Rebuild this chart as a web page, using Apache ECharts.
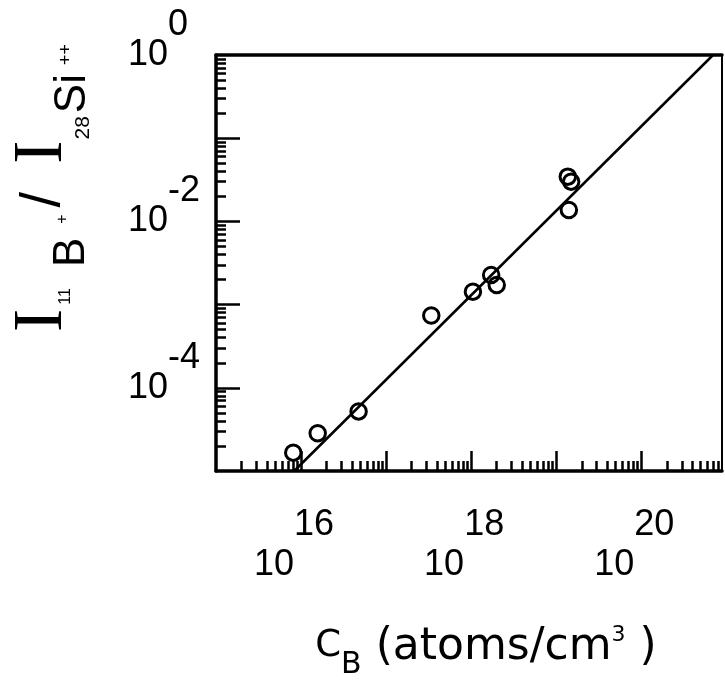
<!DOCTYPE html>
<html>

<head>
    <meta charset="utf-8">
    <title>11B+ / 28Si++ ratio vs boron concentration</title>
    <script src="https://cdn.jsdelivr.net/npm/echarts@6.0.0/dist/echarts.min.js"></script>
    <style>
        html,
        body {
            margin: 0;
            padding: 0;
            background: #fff;
        }

        #main {
            width: 725px;
            height: 693px;
        }
    </style>
</head>

<body>
    <div id="main"></div>
    <script>
        // boron concentration C_B (atoms/cm3) and ion intensity ratio
        var concentration = [8.1e15, 1.57e16, 4.75e16, 3.4e17, 1.05e18, 1.72e18, 2.0e18, 1.37e19, 1.5e19, 1.41e19];
        var ratio = [1.66e-5, 2.84e-5, 5.2e-5, 7.4e-4, 1.43e-3, 2.27e-3, 1.72e-3, 3.45e-2, 3.0e-2, 1.37e-2];

        // the drawn straight line (end points)
        var fitX = [8.3e15, 7.0e20];
        var fitY = [1e-5, 1];

        // tick labels (mantissa 10, exponent as superscript)
        var xTickValues = [1e16, 1e18, 1e20];
        var xTickLabels = ['16', '18', '20'];
        var yTickValues = [1, 1e-2, 1e-4];
        var yTickLabels = ['0', '-2', '-4'];

        var xMin = 1e15, xMax = Math.pow(10, 20.95);
        var yMin = 1e-5, yMax = 1;

        // decade ticks and 2..9 minor ticks
        function decades(lo, hi) {
            var out = [];
            for (var e = lo; e <= hi; e++) out.push(Math.pow(10, e));
            return out;
        }
        function minors(lo, hi, max) {
            var out = [];
            for (var e = lo; e <= hi; e++) {
                for (var k = 2; k <= 9; k++) {
                    var v = k * Math.pow(10, e);
                    if (v < max) out.push(v);
                }
            }
            return out;
        }

        function nearest(list, v) {
            var best = 0, d = Infinity;
            for (var i = 0; i < list.length; i++) {
                var dd = Math.abs(Math.log10(list[i]) - Math.log10(v));
                if (dd < d) { d = dd; best = i; }
            }
            return best;
        }

        var black = '#000';
        var sans = 'Liberation Sans';

        var myChart = echarts.init(document.getElementById('main'));

        var option = {
            animation: false,
            backgroundColor: '#fff',
            grid: {
                left: 216,
                top: 55,
                width: 506,
                height: 416,
                containLabel: false,
                outerBoundsMode: 'none'
            },
            xAxis: [{
                // main bottom axis: decade ticks, labels, title
                type: 'log',
                position: 'bottom',
                min: xMin,
                max: xMax,
                axisLine: { show: true, onZero: false, lineStyle: { color: black, width: 3.5 } },
                axisTick: {
                    show: true, inside: true, length: 20,
                    customValues: decades(16, 20),
                    lineStyle: { color: black, width: 2.5 }
                },
                axisLabel: {
                    customValues: xTickValues,
                    margin: 36,
                    formatter: function (value) {
                        return '{b|10}{s|' + xTickLabels[nearest(xTickValues, value)] + '}';
                    },
                    rich: {
                        b: { fontFamily: sans, fontSize: 36, color: black },
                        s: { fontFamily: sans, fontSize: 36, color: black, padding: [0, 14, 80, 0] }
                    }
                },
                splitLine: { show: false },
                name: '{c|C}{cb|B} {t|(atoms/cm}{p|3} {t|)}',
                nameLocation: 'middle',
                nameGap: 145,
                nameTextStyle: {
                    fontFamily: 'DejaVu Sans',
                    fontSize: 44,
                    color: black,
                    padding: [0, 0, 0, 34],
                    rich: {
                        c: { fontFamily: 'DejaVu Sans', fontSize: 37, color: black, padding: [0, 0, 3, 0] },
                        cb: { fontFamily: 'DejaVu Sans', fontSize: 30, color: black, padding: [34, 0, 0, 0] },
                        t: { fontFamily: 'DejaVu Sans', fontSize: 44, color: black },
                        p: { fontFamily: 'DejaVu Sans', fontSize: 22, color: black, padding: [0, 0, 26, 0] }
                    }
                }
            }, {
                // minor ticks
                type: 'log',
                position: 'bottom',
                min: xMin,
                max: xMax,
                axisLine: { show: false },
                axisTick: {
                    show: true, inside: true, length: 10,
                    customValues: minors(15, 20, xMax),
                    lineStyle: { color: black, width: 2.5 }
                },
                axisLabel: { show: false },
                splitLine: { show: false }
            }, {
                // top frame
                type: 'log',
                position: 'top',
                min: xMin,
                max: xMax,
                axisLine: { show: true, lineStyle: { color: black, width: 3.5 } },
                axisTick: { show: false },
                axisLabel: { show: false },
                splitLine: { show: false }
            }],
            yAxis: [{
                type: 'log',
                position: 'left',
                min: yMin,
                max: yMax,
                axisLine: { show: true, onZero: false, lineStyle: { color: black, width: 3.5 } },
                axisTick: {
                    show: true, inside: true, length: 24,
                    customValues: decades(-4, -1),
                    lineStyle: { color: black, width: 2.5 }
                },
                axisLabel: {
                    customValues: yTickValues,
                    align: 'left',
                    margin: 88,
                    formatter: function (value) {
                        return '{b|10}{s|' + yTickLabels[nearest(yTickValues, value)] + '}';
                    },
                    rich: {
                        b: { fontFamily: sans, fontSize: 36, color: black },
                        s: { fontFamily: sans, fontSize: 36, color: black, padding: [0, 0, 60, 0] }
                    }
                },
                splitLine: { show: false },
                name: '{i|I}{n|11}{l|B}{q|+}{sl|/}{i2|I}{n2|28}{l2|Si}{q2|++}',
                nameLocation: 'middle',
                nameRotate: 90,
                nameGap: 106,
                nameTextStyle: {
                    color: black,
                    padding: [0, 0, 0, 150],
                    rich: {
                        i: { fontFamily: 'Liberation Serif', fontSize: 70, color: black, padding: [0, 0, 32, 0] },
                        n: { fontFamily: sans, fontSize: 16, color: black, padding: [14, 0, 0, 4] },
                        l: { fontFamily: sans, fontSize: 44, color: black, padding: [26, 0, 0, 21] },
                        q: { fontFamily: sans, fontSize: 16, color: black, padding: [7, 0, 0, 14] },
                        sl: { fontFamily: sans, fontSize: 56, color: black, padding: [0, 0, 30, 7] },
                        i2: { fontFamily: 'Liberation Serif', fontSize: 70, color: black, padding: [0, 0, 32, 28] },
                        n2: { fontFamily: sans, fontSize: 21, color: black, padding: [49, 0, 0, 1] },
                        l2: { fontFamily: sans, fontSize: 44, color: black, padding: [28, 0, 0, 3] },
                        q2: { fontFamily: sans, fontSize: 18, color: black, padding: [15, 0, 0, 9] }
                    }
                }
            }, {
                type: 'log',
                position: 'left',
                min: yMin,
                max: yMax,
                axisLine: { show: false },
                axisTick: {
                    show: true, inside: true, length: 10,
                    customValues: minors(-5, -1, yMax),
                    lineStyle: { color: black, width: 2.5 }
                },
                axisLabel: { show: false },
                splitLine: { show: false }
            }, {
                // right frame
                type: 'log',
                position: 'right',
                min: yMin,
                max: yMax,
                axisLine: { show: true, lineStyle: { color: black, width: 2 } },
                axisTick: { show: false },
                axisLabel: { show: false },
                splitLine: { show: false }
            }],
            series: [{
                type: 'line',
                xAxisIndex: 0,
                yAxisIndex: 0,
                data: fitX.map(function (x, i) { return [x, fitY[i]]; }),
                showSymbol: false,
                symbol: 'none',
                lineStyle: { color: black, width: 2.5 },
                silent: true
            }, {
                type: 'scatter',
                xAxisIndex: 0,
                yAxisIndex: 0,
                data: concentration.map(function (x, i) { return [x, ratio[i]]; }),
                symbol: 'circle',
                symbolSize: 15.5,
                itemStyle: { color: 'rgba(0,0,0,0)', borderColor: black, borderWidth: 3, opacity: 1 }
            }]
        };

        myChart.setOption(option);
    </script>
</body>

</html>
